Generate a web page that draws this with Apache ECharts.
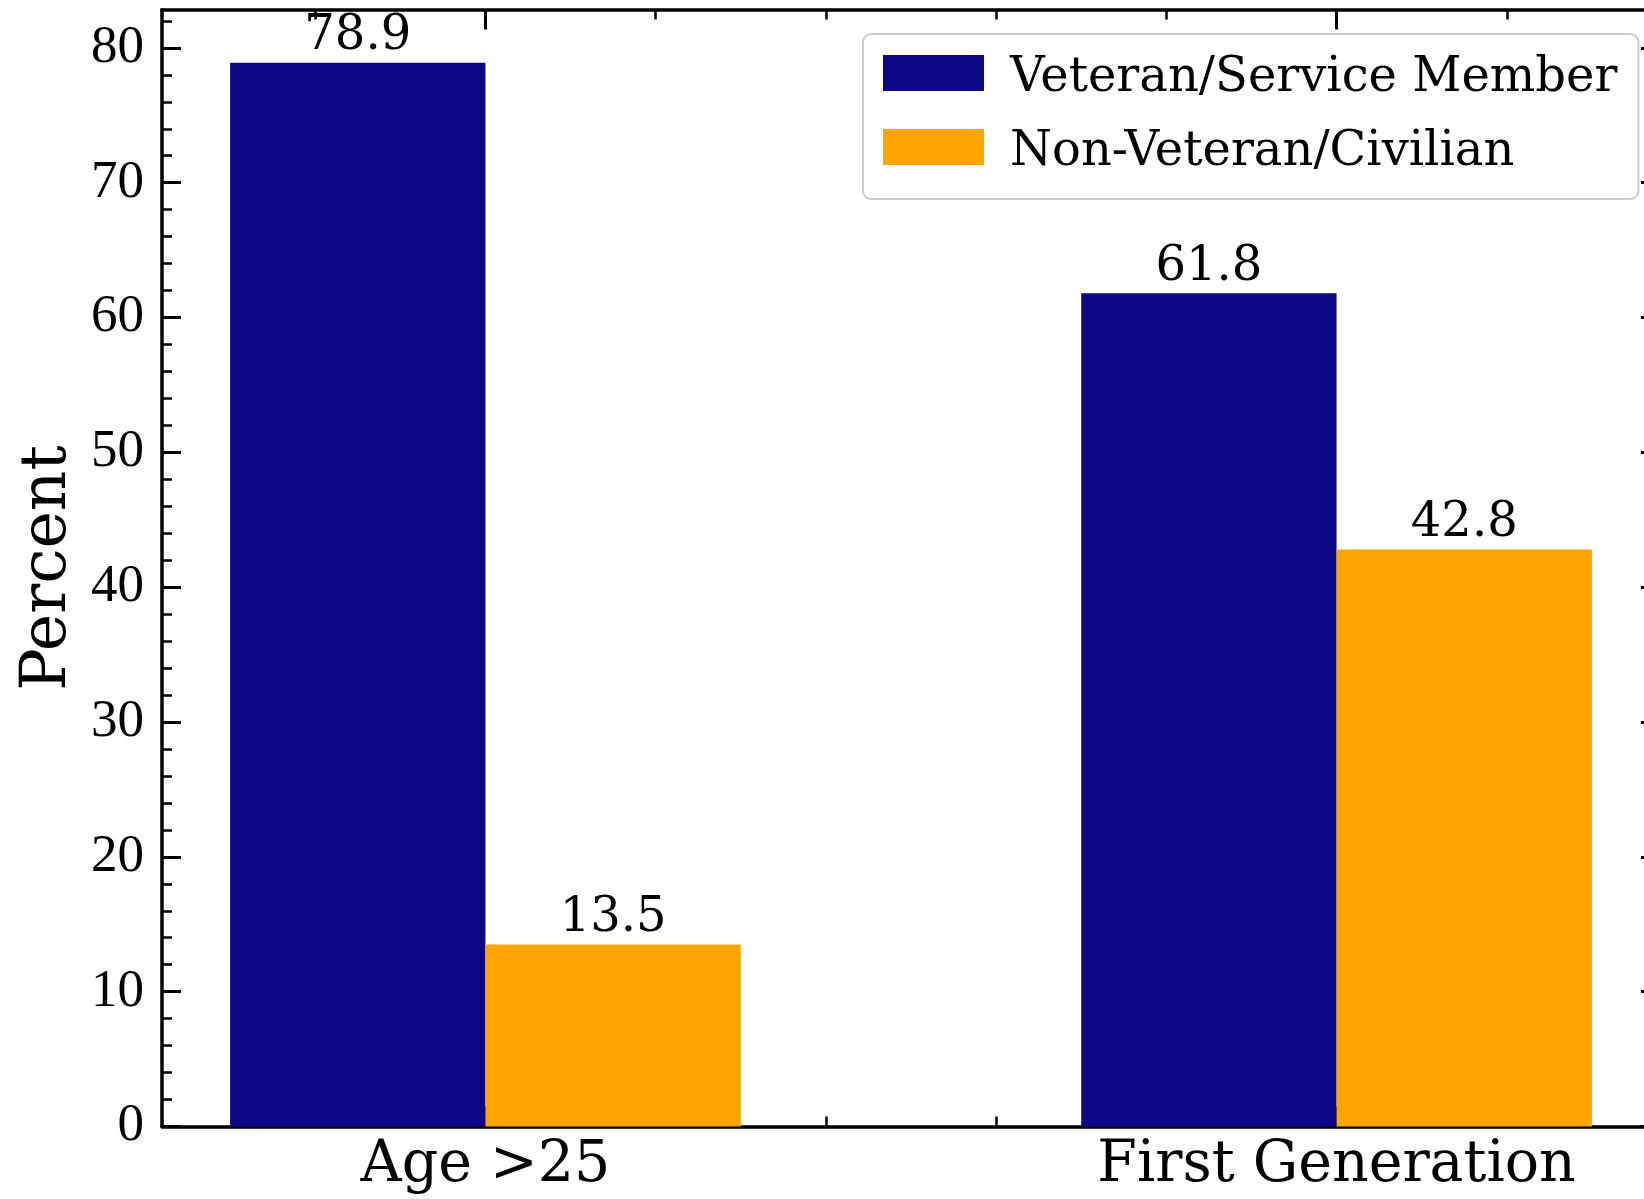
<!DOCTYPE html>
<html>
<head>
<meta charset="utf-8">
<script src="https://cdn.jsdelivr.net/npm/echarts@6/dist/echarts.min.js"></script>
<style>
  html, body { margin: 0; padding: 0; background: #fff; }
  #chart { width: 1644px; height: 1199px; }
</style>
</head>
<body>
<div id="chart"></div>
<script>
// data
var categories = ['Age >25', 'First Generation'];
var seriesNames = ['Veteran/Service Member', 'Non-Veteran/Civilian'];
var veteranValues = [78.9, 61.8];
var civilianValues = [13.5, 42.8];

// tick positions
var yMajorTicks = [0, 10, 20, 30, 40, 50, 60, 70, 80];
var yMinorTicks = [2, 4, 6, 8, 12, 14, 16, 18, 22, 24, 26, 28, 32, 34, 36, 38, 42, 44, 46, 48,
                   52, 54, 56, 58, 62, 64, 66, 68, 72, 74, 76, 78, 82];
var xMajorTicks = [0, 1];
var xMinorTicks = [-0.2, 0.2, 0.4, 0.6, 0.8, 1.2];

var barOffset = 0.15;   // each bar sits half a bar-width off the category centre
var xMin = -0.38, xMax = 1.38;
var yMin = 0, yMax = 82.845;

var serif = 'DejaVu Serif';
var tickFont = 'Liberation Serif';

// bars on a value x axis: category index +/- offset
function toPoints(values, sign) {
  return values.map(function (v, i) { return [i + sign * barOffset, v]; });
}

function xAxisDef(pos, ticks, len, withLine, withLabel) {
  return {
    type: 'value', position: pos, min: xMin, max: xMax, gridIndex: 0,
    axisLine: { show: withLine, onZero: false, lineStyle: { color: '#000', width: 3.5 } },
    axisTick: { show: true, inside: true, length: len, customValues: ticks,
                lineStyle: { color: '#000', width: len > 12 ? 3 : 2.5 } },
    axisLabel: withLabel ? {
      show: true, customValues: ticks, margin: 11,
      fontFamily: serif, fontSize: 57, color: '#000',
      formatter: function (v) { return categories[Math.round(v)] || ''; }
    } : { show: false },
    splitLine: { show: false }
  };
}

function yAxisDef(pos, ticks, len, withLine, withLabel) {
  var ax = {
    type: 'value', position: pos, min: yMin, max: yMax, gridIndex: 0,
    axisLine: { show: withLine, onZero: false, lineStyle: { color: '#000', width: 3.5 } },
    axisTick: { show: true, inside: true, length: len, customValues: ticks,
                lineStyle: { color: '#000', width: len > 12 ? 3 : 2.5 } },
    axisLabel: withLabel ? {
      show: true, customValues: ticks, margin: 18,
      fontFamily: tickFont, fontSize: 53, color: '#000'
    } : { show: false },
    splitLine: { show: false }
  };
  if (withLabel) {
    ax.name = 'Percent';
    ax.nameLocation = 'middle';
    ax.nameRotate = 90;
    ax.nameGap = 82;
    ax.nameTextStyle = { fontFamily: serif, fontSize: 63, color: '#000' };
  }
  return ax;
}

var chart = echarts.init(document.getElementById('chart'), null, { renderer: 'canvas' });

chart.setOption({
  animation: false,
  backgroundColor: '#fff',
  grid: { left: 162, top: 9.5, width: 1498, height: 1117, outerBoundsMode: 'none', containLabel: false },
  legend: {
    orient: 'vertical',
    left: 863, top: 34,
    padding: [21, 21, 22, 20],
    itemGap: 26,
    itemWidth: 101, itemHeight: 36,
    icon: 'rect',
    backgroundColor: '#fff',
    borderColor: '#cccccc', borderWidth: 2, borderRadius: 8,
    formatter: '{t|{name}}',
    textStyle: {
      color: '#000',
      rich: { t: { fontFamily: serif, fontSize: 48, color: '#000', padding: [12, 0, 0, 21] } }
    },
    data: seriesNames
  },
  xAxis: [
    xAxisDef('bottom', xMajorTicks, 20, true, true),
    xAxisDef('bottom', xMinorTicks, 10, false, false),
    xAxisDef('top', xMajorTicks, 20, true, false),
    xAxisDef('top', xMinorTicks, 10, false, false)
  ],
  yAxis: [
    yAxisDef('left', yMajorTicks, 19, true, true),
    yAxisDef('left', yMinorTicks, 10, false, false),
    yAxisDef('right', yMajorTicks, 19, true, false),
    yAxisDef('right', yMinorTicks, 10, false, false)
  ],
  series: [
    {
      name: seriesNames[0], type: 'bar',
      xAxisIndex: 0, yAxisIndex: 0,
      barWidth: '100%', barGap: '-100%',
      itemStyle: { color: '#0d0887' },
      label: { show: true, position: 'top', distance: 2,
               fontFamily: serif, fontSize: 48, color: '#000' },
      data: toPoints(veteranValues, -1)
    },
    {
      name: seriesNames[1], type: 'bar',
      xAxisIndex: 0, yAxisIndex: 0,
      barWidth: '100%', barGap: '-100%',
      itemStyle: { color: '#ffa500' },
      label: { show: true, position: 'top', distance: 2,
               fontFamily: serif, fontSize: 48, color: '#000' },
      data: toPoints(civilianValues, 1)
    }
  ]
});
</script>
</body>
</html>
